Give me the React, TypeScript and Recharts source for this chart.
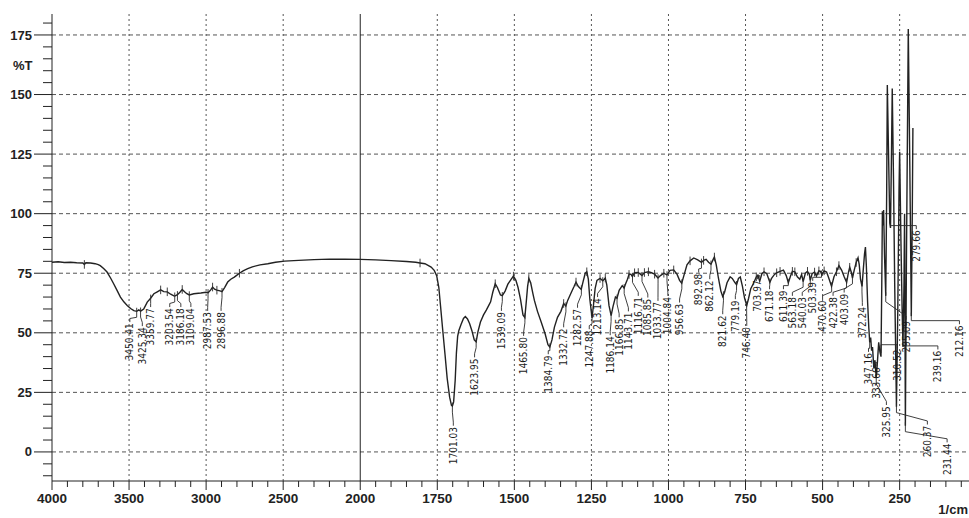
import { ComposedChart, Line, Scatter, XAxis, YAxis, ReferenceLine } from 'recharts';

// x axis is piecewise: 500 cm-1 per grid cell above 2000, 250 cm-1 per cell below
const xTickLabels = ['4000', '3500', '3000', '2500', '2000', '1750', '1500', '1250', '1000', '750', '500', '250'];
const yMajorTicks = [0, 25, 50, 75, 100, 125, 150, 175];

// [wavenumber 1/cm, %T]
const traceHigh: [number, number][] = [
  [4000, 79.6], [3960, 79.8], [3920, 79.5], [3880, 79.6], [3840, 79.4], [3800, 79.3], [3790, 78.7], [3780, 79.4],
  [3750, 79.3], [3720, 79.0], [3700, 78.6], [3687, 78.2], [3665, 77.0], [3643, 75.5], [3620, 73.0], [3600, 70.6],
  [3578, 67.8], [3556, 65.0], [3534, 63.0], [3512, 61.5], [3490, 60.2], [3469, 59.3], [3450, 59.0], [3437, 59.6],
  [3425, 59.1], [3405, 60.0], [3382, 62.9], [3360, 64.5], [3339, 66.4], [3317, 67.2], [3295, 68.0], [3275, 67.3],
  [3252, 67.2], [3230, 66.2], [3209, 65.5], [3203, 65.4], [3186, 66.0], [3170, 67.0], [3155, 68.2], [3140, 67.2],
  [3125, 66.4], [3109, 65.9], [3080, 66.4], [3050, 66.6], [3034, 66.7], [3001, 67.0], [2987, 66.8], [2970, 68.0],
  [2958, 69.2], [2945, 68.3], [2930, 67.9], [2910, 67.6], [2897, 67.3], [2880, 69.0], [2860, 71.3], [2840, 72.5],
  [2817, 73.4], [2800, 74.2], [2784, 75.0], [2760, 76.0], [2730, 76.9], [2700, 77.7], [2650, 78.5], [2600, 79.0],
  [2550, 79.6], [2491, 80.1], [2400, 80.4], [2300, 80.7], [2200, 80.9], [2100, 80.9], [2000, 80.8],
];

const traceMid: [number, number][] = [
  [1950, 80.6], [1900, 80.3], [1850, 79.9], [1820, 79.6], [1806, 79.3], [1790, 79.0], [1780, 78.3], [1770, 77.6],
  [1760, 76.2], [1752, 74.0], [1745, 69.0], [1740, 62.0], [1733, 52.0], [1725, 41.0], [1718, 31.0], [1710, 23.0],
  [1704, 19.5], [1701, 19.2], [1697, 21.0], [1692, 30.0], [1688, 41.5], [1684, 48.5], [1680, 51.0], [1673, 53.5],
  [1665, 56.0], [1659, 56.8], [1652, 55.8], [1645, 53.8], [1638, 51.0], [1630, 47.0], [1624, 46.2], [1618, 50.5],
  [1610, 54.5], [1600, 57.5], [1591, 59.5], [1583, 61.5], [1577, 63.0], [1570, 67.0], [1562, 70.6], [1555, 69.0],
  [1545, 65.9], [1539, 65.6], [1530, 67.5], [1521, 70.4], [1510, 72.5], [1503, 73.8], [1495, 72.0], [1488, 69.0],
  [1480, 64.0], [1472, 57.5], [1466, 56.4], [1461, 63.5], [1457, 69.5], [1453, 72.8], [1447, 71.0], [1440, 66.5],
  [1435, 63.6], [1425, 59.0], [1413, 54.5], [1400, 49.5], [1391, 45.0], [1385, 44.0], [1378, 47.0], [1370, 52.4],
  [1360, 56.5], [1349, 59.0], [1340, 62.3], [1333, 61.2], [1327, 63.6], [1315, 67.0], [1306, 69.5], [1300, 71.3],
  [1293, 69.5], [1283, 68.2], [1277, 71.5], [1270, 75.0], [1265, 75.6], [1260, 72.5], [1255, 64.0], [1248, 56.2],
  [1243, 62.0], [1238, 68.5], [1232, 72.0], [1222, 72.8], [1213, 71.8], [1205, 73.0], [1200, 70.0], [1193, 61.5],
  [1186, 57.2], [1180, 61.0], [1172, 65.0], [1167, 64.5], [1160, 67.8], [1150, 69.8], [1144, 68.8], [1139, 70.6],
  [1133, 72.5], [1128, 74.5], [1122, 74.6], [1117, 73.6], [1110, 75.2], [1098, 75.3], [1086, 74.0], [1078, 75.3],
  [1065, 75.6], [1055, 75.2], [1045, 74.6], [1034, 73.0], [1026, 74.0], [1015, 75.0], [1005, 74.3], [995, 76.2],
  [983, 76.4], [972, 74.5], [964, 72.0], [957, 70.8], [950, 74.0], [940, 78.5], [930, 80.2], [918, 81.4],
  [905, 80.6], [893, 79.6], [886, 80.4], [878, 80.8], [870, 79.6], [862, 78.8], [855, 80.8], [851, 81.8],
  [845, 78.5], [838, 73.0], [830, 67.5], [824, 65.2], [818, 67.0], [810, 71.0], [800, 73.5], [793, 72.8],
  [785, 71.2], [779, 70.2], [773, 72.8], [767, 73.4], [760, 69.5], [753, 64.5], [746, 61.5], [740, 64.5],
  [733, 68.5], [724, 70.8], [715, 73.5], [710, 74.2], [704, 71.6], [697, 74.8], [690, 75.6], [681, 74.8],
  [676, 73.0], [671, 71.2], [665, 73.0], [656, 74.5], [649, 75.2], [638, 75.8], [627, 76.3], [618, 74.0],
  [611, 71.0], [604, 73.8], [598, 75.8], [590, 75.6], [582, 73.5], [574, 72.5], [568, 74.5], [563, 71.5],
  [556, 75.0], [549, 75.8], [543, 74.5], [540, 72.0], [534, 74.8], [526, 75.5], [520, 73.8], [512, 76.0],
  [507, 75.8], [503, 74.5], [495, 76.0], [487, 75.5], [480, 73.0], [471, 69.5], [463, 73.5], [455, 75.6],
  [447, 78.2], [438, 76.2], [430, 73.5], [422, 71.2], [416, 75.5], [412, 77.5], [407, 75.5], [403, 73.0],
  [397, 76.5], [391, 79.5], [385, 81.5], [381, 78.5], [377, 72.5], [372, 69.5], [368, 76.5], [364, 83.0], [361, 86.0],
];

const traceFar: [number, number][] = [
  [358, 78.0], [354, 63.0], [350, 52.0], [347.16, 46.0], [344, 48.0], [341, 42.5], [338, 44.0], [333.66, 35.0],
  [330, 38.5], [325.95, 31.0], [322, 38.0], [318, 46.0], [314, 42.0], [310.52, 40.0], [308, 70.0], [306, 101.0],
  [304, 95.0], [302, 101.5], [299, 82.0], [295.09, 65.5], [292, 110.0], [290, 154.0], [286, 125.0], [282, 96.0],
  [279.66, 94.0], [277, 120.0], [274, 152.5], [270, 115.0], [266, 70.0], [260.37, 19.0], [256, 60.0], [252, 110.0],
  [250, 126.0], [246, 90.0], [242, 60.0], [239.16, 44.0], [236, 70.0], [234, 100.0], [231.44, 11.0], [228, 80.0],
  [222, 177.5], [217, 120.0], [212.16, 57.0], [209, 100.0], [207, 136.0],
];

// picked peaks
const peakWavenumbers = [
  3450.41, 3425.34, 3359.77, 3203.54, 3186.18, 3109.04, 2987.53, 2896.88,
  1701.03, 1623.95, 1539.09, 1465.80, 1384.79, 1332.72, 1282.57, 1247.88, 1213.14, 1186.14, 1166.85, 1143.71,
  1116.71, 1085.85, 1033.77, 1004.84, 956.63, 892.98, 862.12, 821.62, 779.19, 746.40, 703.97, 671.18,
  611.39, 563.18, 540.03, 503.39, 470.60, 422.38, 403.09, 372.24, 347.16, 333.66, 325.95, 310.52,
  295.09, 279.66, 260.37, 239.16, 231.44, 212.16,
];
// where each peak label sits: wavenumber of the text and %T of its top end
const labelAt = [
  3495, 3414, 3360, 3236, 3164, 3099, 2990, 2903,
  1698, 1629, 1542, 1470, 1390, 1340, 1295, 1257, 1230, 1189, 1160, 1130,
  1098, 1067, 1034, 1002, 964, 902, 866, 824, 783, 746, 711, 672,
  627, 598, 566, 532, 500, 466, 430, 371, 351, 324, 293, 258,
  229, 196, 160, 126, 96, 56,
];
const labelTop = [
  54.0, 52.3, 60.3, 60.3, 60.3, 60.3, 58.7, 58.7,
  10.5, 39.2, 58.7, 48.2, 40.5, 51.8, 60.0, 51.0, 64.5, 48.5, 56.0, 58.5,
  65.0, 64.3, 62.9, 65.0, 62.2, 74.8, 72.0, 57.3, 63.6, 52.4, 72.0, 67.8,
  67.8, 65.0, 65.0, 71.3, 63.6, 65.0, 66.4, 60.8, 41.5, 35.5, 19.2, 43.0,
  55.0, 93.0, 11.0, 42.5, 3.5, 53.1,
];
// small tick marks the instrument puts on local maxima
const maxMarks = [
  3790, 3295, 3252, 3155, 2958, 2930, 2784, 1806, 1562, 1503, 1453, 1340, 1300, 1265, 1222, 1205,
  1128, 1110, 1098, 1078, 1065, 1045, 1015, 983, 930, 886, 851, 715, 690, 649, 638, 598, 590, 549,
  526, 512, 495, 455, 447, 412, 391,
];

const toU = (w: number) => (w >= 2000 ? (4000 - w) / 500 : 4 + (2000 - w) / 250);

const allPts = [...traceHigh, ...traceMid, ...traceFar];
const spectrum = allPts.map(([w, t]) => ({ u: toU(w), T: t }));

function tAt(w: number) {
  for (let i = 0; i < allPts.length - 1; i++) {
    const [w0, t0] = allPts[i];
    const [w1, t1] = allPts[i + 1];
    if (w <= w0 && w >= w1) return t0 + ((w0 - w) / (w0 - w1)) * (t1 - t0);
  }
  return allPts[allPts.length - 1][1];
}

const leaders: { u: number; T: number | null }[] = [];
peakWavenumbers.forEach((w, i) => {
  const tp = tAt(w);
  const up = toU(w);
  const ul = toU(labelAt[i]);
  const tl = labelTop[i];
  const c = tl + 2;
  const b = Math.max(tp - 2.5, c);
  leaders.push({ u: up, T: tp + 1.5 }, { u: up, T: b }, { u: ul, T: c }, { u: ul, T: tl + 0.5 }, { u: ul, T: null });
});
maxMarks.forEach(w => {
  const t = tAt(w);
  leaders.push({ u: toU(w), T: t + 1.8 }, { u: toU(w), T: t - 1.8 }, { u: toU(w), T: null });
});

const labels = peakWavenumbers.map((w, i) => ({ u: toU(labelAt[i]), T: labelTop[i], text: w.toFixed(2) }));

const xTicks = Array.from({ length: 60 }, (_, i) => i / 5);
const yTicks = Array.from({ length: 39 }, (_, i) => -10 + i * 5);

const axisFont = "'Liberation Sans', Arial, sans-serif";
const ink = '#222';

const XTick = (props: any) => {
  const { x, y, payload } = props;
  const v = payload.value;
  const major = Math.abs(v - Math.round(v)) < 1e-6;
  return (
    <g>
      <line x1={x} x2={x} y1={y} y2={y + (major ? 9 : 6)} stroke={ink} strokeWidth={1} />
      {major && (
        <text x={x} y={y + 22} textAnchor="middle" fontSize={13.5} fontWeight="bold" fontFamily={axisFont} fill={ink}>
          {xTickLabels[Math.round(v)]}
        </text>
      )}
    </g>
  );
};

const YTick = (props: any) => {
  const { x, y, payload } = props;
  const v = payload.value;
  const major = yMajorTicks.includes(v);
  return (
    <g>
      <line x1={x - (major ? 18 : 9)} x2={x} y1={y} y2={y} stroke={ink} strokeWidth={1} />
      {major && (
        <text x={x - 20} y={y} dy="0.35em" textAnchor="end" fontSize={13} fontWeight="bold" fontFamily={axisFont} fill={ink}>
          {v}
        </text>
      )}
    </g>
  );
};

const PeakLabel = (props: any) => {
  const { cx, cy, payload } = props;
  return (
    <text
      x={cx}
      y={cy}
      transform={`rotate(-90 ${cx} ${cy})`}
      textAnchor="end"
      dy="0.35em"
      fontSize={10}
      fontFamily="'Liberation Sans Narrow', 'DejaVu Sans Condensed', 'Liberation Sans', sans-serif"
      fill="#1a1a1a"
    >
      {payload.text}
    </text>
  );
};

export default function App() {
  return (
    <div style={{ position: 'absolute', left: 0, top: 0, width: 969, height: 518, background: '#fff' }}>
      <ComposedChart width={969} height={518} margin={{ top: 14, right: 0, bottom: 0, left: 0 }}>
        <XAxis
          dataKey="u"
          type="number"
          domain={[0, 11.9]}
          ticks={xTicks}
          interval={0}
          tick={<XTick />}
          tickLine={false}
          tickSize={0}
          tickMargin={0}
          height={37}
          axisLine={{ stroke: ink }}
          allowDataOverflow
        />
        <XAxis xAxisId="top" orientation="top" type="number" domain={[0, 11.9]} tick={false} tickLine={false} height={0} axisLine={{ stroke: '#555' }} />
        <YAxis
          dataKey="T"
          type="number"
          domain={[-12.2, 183.8]}
          ticks={yTicks}
          interval={0}
          tick={<YTick />}
          tickLine={false}
          tickSize={0}
          tickMargin={0}
          width={52}
          axisLine={{ stroke: ink }}
          allowDataOverflow
        />
        {yMajorTicks.map(v => (
          <ReferenceLine key={`h${v}`} y={v} stroke="#555" strokeDasharray="4 3" />
        ))}
        {xTickLabels.map((_, i) =>
          i === 0 || i === 4 ? null : <ReferenceLine key={`v${i}`} x={i} stroke="#555" strokeDasharray="2 3" />
        )}
        <ReferenceLine x={4} stroke={ink} />
        <Line data={spectrum} dataKey="T" type="linear" stroke="#222" strokeWidth={1.4} dot={false} activeDot={false} isAnimationActive={false} />
        <Line data={leaders} dataKey="T" type="linear" stroke="#2a2a2a" strokeWidth={0.9} dot={false} activeDot={false} connectNulls={false} isAnimationActive={false} />
        <Scatter data={labels} dataKey="T" shape={<PeakLabel />} isAnimationActive={false} />
      </ComposedChart>
      <div style={{ position: 'absolute', left: 13, top: 58, fontFamily: axisFont, fontWeight: 'bold', fontSize: 13, color: ink }}>%T</div>
      <div style={{ position: 'absolute', right: 1, top: 502, fontFamily: axisFont, fontWeight: 'bold', fontSize: 13, color: ink }}>1/cm</div>
    </div>
  );
}
